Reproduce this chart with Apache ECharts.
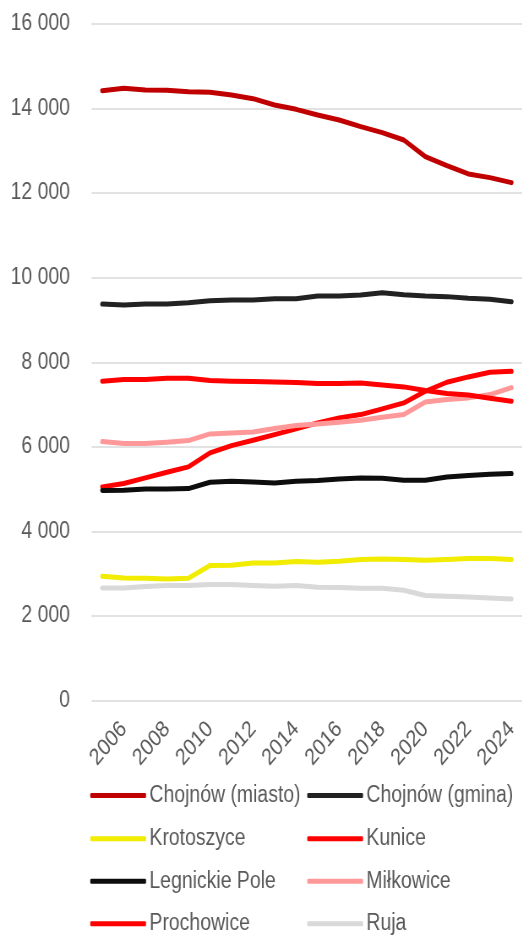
<!DOCTYPE html>
<html>
<head>
<meta charset="utf-8">
<script src="https://cdn.jsdelivr.net/npm/echarts@6/dist/echarts.min.js"></script>
<style>
html,body{margin:0;padding:0;background:#fff;overflow:hidden;width:522px;height:935px;}
#chart{width:618px;height:935px;transform:scaleX(0.845);transform-origin:0 0;}
</style>
</head>
<body>
<div id="chart"></div>
<script>
var years = ['2005','2006','2007','2008','2009','2010','2011','2012','2013','2014','2015','2016','2017','2018','2019','2020','2021','2022','2023','2024'];
var chojnowMiasto = [14423,14479,14439,14431,14400,14384,14321,14234,14084,13982,13848,13730,13572,13430,13257,12863,12650,12453,12366,12248];
var chojnowGmina = [9378,9355,9378,9378,9410,9457,9473,9473,9504,9504,9567,9567,9591,9646,9599,9567,9552,9512,9489,9433];
var krotoszyce = [2939,2900,2892,2876,2892,3191,3198,3254,3254,3286,3270,3294,3333,3349,3333,3317,3333,3357,3357,3333];
var kunice = [5052,5131,5265,5399,5525,5856,6029,6155,6289,6423,6565,6684,6762,6896,7038,7314,7527,7653,7763,7787];
var legnickiePole = [4965,4973,5004,5004,5012,5162,5186,5170,5146,5186,5201,5241,5265,5257,5209,5209,5288,5320,5351,5367];
var milkowice = [6124,6077,6077,6108,6147,6305,6329,6352,6431,6502,6542,6581,6628,6699,6762,7062,7117,7157,7235,7401];
var prochowice = [7551,7590,7590,7622,7622,7566,7551,7543,7535,7519,7495,7495,7511,7464,7417,7330,7259,7227,7149,7078];
var ruja = [2663,2663,2694,2718,2718,2742,2742,2718,2702,2718,2679,2671,2655,2655,2608,2482,2466,2450,2427,2403];

var names = ['Chojnów (miasto)','Chojnów (gmina)','Krotoszyce','Kunice','Legnickie Pole','Miłkowice','Prochowice','Ruja'];
var colors = ['#C00000','#222222','#F2EC00','#FF0000','#0D0D0D','#FF9999','#FF0000','#D9D9D9'];
var values = [chojnowMiasto,chojnowGmina,krotoszyce,kunice,legnickiePole,milkowice,prochowice,ruja];

var FONT = "'Liberation Sans',Arial,sans-serif";
var chart = echarts.init(document.getElementById('chart'), null, {renderer:'canvas', width:618, height:935});

var series = names.map(function(n,i){
  return {
    name:n, type:'line', data:values[i], symbol:'none', smooth:false,
    lineStyle:{color:colors[i], width:5, cap:'round', join:'round'},
    itemStyle:{color:colors[i]}
  };
});

var legendLefts = [101.8, 358.6];
var legendTops = [779, 822.3, 864.7, 907.3];
var legends = names.map(function(n,i){
  return {
    left:legendLefts[i%2], top:legendTops[Math.floor(i/2)],
    data:[n], icon:'roundRect', itemWidth:66, itemHeight:5,
    textStyle:{fontFamily:FONT, fontSize:23, color:'#595959', lineHeight:20, padding:[0,0,0,-1]},
    selectedMode:false
  };
});

chart.setOption({
  animation:false,
  backgroundColor:'#fff',
  color:colors,
  grid:{left:108.3, right:-4.5, top:24, bottom:234.5, containLabel:false},
  xAxis:{
    type:'category', data:years, boundaryGap:true,
    axisLine:{show:false}, axisTick:{show:false},
    axisLabel:{interval:function(idx){return idx%2===1;}, rotate:45, margin:25,
      fontFamily:FONT, fontSize:23, color:'#595959'}
  },
  yAxis:{
    type:'value', min:0, max:16000, interval:2000,
    axisLine:{show:false}, axisTick:{show:false},
    splitLine:{lineStyle:{color:'#D9D9D9', width:1.5}},
    axisLabel:{margin:25.5, fontFamily:FONT, fontSize:23, color:'#595959',
      formatter:function(v){return String(v).replace(/\B(?=(\d{3})+(?!\d))/g,' ');}}
  },
  legend:legends,
  series:series
});
</script>
</body>
</html>
